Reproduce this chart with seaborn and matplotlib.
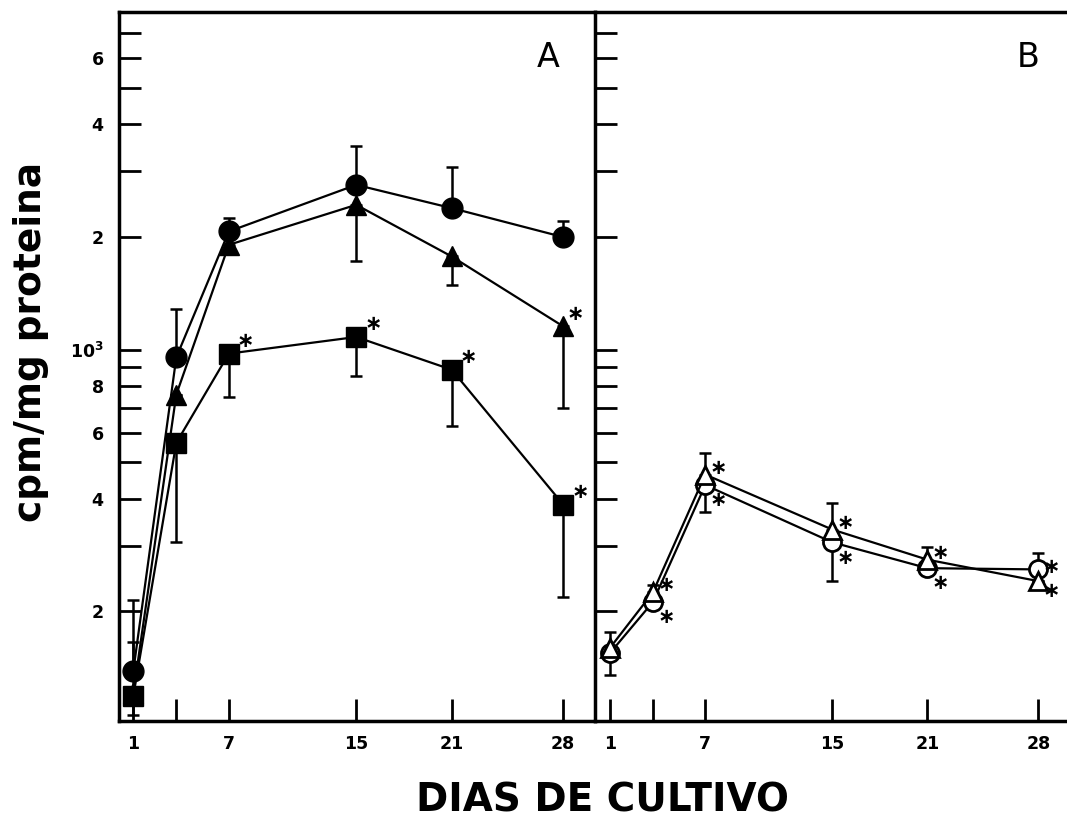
import numpy as np
import pandas as pd
import matplotlib
matplotlib.use("Agg")
import matplotlib.pyplot as plt
import seaborn as sns
from matplotlib.ticker import FixedLocator, FixedFormatter, NullLocator

sns.set_theme(style="ticks")
plt.rcParams["font.family"] = ["DejaVu Sans"]
plt.rcParams["font.weight"] = "bold"
plt.rcParams["mathtext.default"] = "bf"
plt.rcParams["text.color"] = "black"
plt.rcParams["axes.labelcolor"] = "black"
plt.rcParams["xtick.color"] = "black"
plt.rcParams["ytick.color"] = "black"

# ---- data -------------------------------------------------------------
dias = [1, 3.7, 7, 15, 21, 28]
x_ticks = [1, 3.7, 7, 15, 21, 28]
x_labels = ["1", "", "7", "15", "21", "28"]

y_ticks = [200, 300, 400, 500, 600, 700, 800, 900,
           1000, 2000, 3000, 4000, 5000, 6000, 7000]
y_labels = ["2", "", "4", "", "6", "", "8", "",
            r"$10^3$", "2", "", "4", "", "6", ""]

# Panel A (filled symbols)
a_circulo = [139, 954, 2068, 2754, 2387, 1998]
a_circulo_sup = [215, 1284, 2245, 3499, 3082, 2199]
a_triangulo = [121, 759, 1905, 2436, 1773, 1154]
a_triangulo_sup = [166, 759, 1905, 2436, 1773, 1154]
a_triangulo_inf = [121, 759, 1810, 1720, 1490, 699]
a_triangulo_sig = [0, 0, 0, 0, 0, 1]
a_cuadrado = [119, 564, 976, 1081, 884, 386]
a_cuadrado_inf = [106, 306, 748, 849, 624, 219]
a_cuadrado_sig = [0, 0, 1, 1, 1, 1]

# Panel B (open symbols)
b_circulo = [155, 212, 435, 306, 261, 259]
b_circulo_sup = [155, 212, 435, 306, 261, 286]
b_circulo_inf = [135, 212, 368, 241, 261, 259]
b_circulo_sig = [0, 1, 1, 1, 1, 1]
b_triangulo = [160, 225, 464, 331, 275, 241]
b_triangulo_sup = [176, 235, 530, 390, 297, 241]
b_triangulo_sig = [0, 1, 1, 1, 1, 1]

# ---- figure -------------------------------------------------------------
W, H = 1067, 818
fig = plt.figure(figsize=(W / 100, H / 100), dpi=100)
ax_a = fig.add_axes([119 / W, 97 / H, (595 - 119) / W, (721 - 12) / H])
ax_b = fig.add_axes([595 / W, 97 / H, (W - 595) / W, (721 - 12) / H])


def barras(ax, y, inf, sup):
    y = np.asarray(y, float)
    inf = np.asarray(inf, float)
    sup = np.asarray(sup, float)
    ax.errorbar(dias, y, yerr=[y - inf, sup - y], fmt="none", ecolor="black",
                elinewidth=1.8, capsize=4.5, capthick=1.8, zorder=2)


def asterisco(ax, x, y, dx, dy):
    ax.annotate("\u2217", (x, y), xytext=(dx, dy),
                textcoords="offset points", ha="center", va="center",
                fontsize=15, fontweight="bold", color="black", zorder=5)


def asteriscos(ax, y, sig, dx, dy):
    for xi, yi, s in zip(dias, y, sig):
        if s:
            asterisco(ax, xi, yi, dx, dy)


# Panel A
df_a = pd.DataFrame({
    "dia": dias * 3,
    "valor": a_circulo + a_triangulo + a_cuadrado,
    "serie": ["circulo"] * 6 + ["triangulo"] * 6 + ["cuadrado"] * 6,
})
barras(ax_a, a_circulo, a_circulo, a_circulo_sup)
barras(ax_a, a_triangulo, a_triangulo_inf, a_triangulo_sup)
barras(ax_a, a_cuadrado, a_cuadrado_inf, a_cuadrado)
sns.lineplot(data=df_a, x="dia", y="valor", hue="serie", style="serie",
             markers={"circulo": "o", "triangulo": "^", "cuadrado": "s"},
             dashes=False,
             palette={"circulo": "black", "triangulo": "black", "cuadrado": "black"},
             markersize=15, markeredgecolor="black", markeredgewidth=1,
             linewidth=1.6, estimator=None, errorbar=None, legend=False,
             ax=ax_a, zorder=3)
asteriscos(ax_a, a_cuadrado, a_cuadrado_sig, 12, 9)
asteriscos(ax_a, a_triangulo, a_triangulo_sig, 9, 9)

# Panel B
df_b = pd.DataFrame({
    "dia": dias * 2,
    "valor": b_circulo + b_triangulo,
    "serie": ["circulo"] * 6 + ["triangulo"] * 6,
})
barras(ax_b, b_circulo, b_circulo_inf, b_circulo_sup)
barras(ax_b, b_triangulo, b_triangulo, b_triangulo_sup)
sns.lineplot(data=df_b, x="dia", y="valor", hue="serie", style="serie",
             markers={"circulo": "o", "triangulo": "^"}, dashes=False,
             palette={"circulo": "black", "triangulo": "black"},
             markersize=13, markerfacecolor="white", markeredgecolor="black",
             markeredgewidth=2, linewidth=1.6, estimator=None, errorbar=None,
             legend=False, ax=ax_b, zorder=3)
# the upper symbol of each pair gets its asterisk above-right, the lower one below-right
for xi, yc, yt, sc, st in zip(dias, b_circulo, b_triangulo,
                              b_circulo_sig, b_triangulo_sig):
    upper_is_tri = yt >= yc
    if st:
        asterisco(ax_b, xi, yt, 9.5, 5 if upper_is_tri else -7)
    if sc:
        asterisco(ax_b, xi, yc, 9.5, -11 if upper_is_tri else 2)

# ---- axes styling -------------------------------------------------------
for ax, xlim in ((ax_a, (0.1, 30.0)), (ax_b, (0.05, 29.8))):
    ax.set_yscale("log")
    ax.set_ylim(102, 7970)
    ax.set_xlim(*xlim)
    ax.yaxis.set_major_locator(FixedLocator(y_ticks))
    ax.yaxis.set_minor_locator(NullLocator())
    ax.xaxis.set_major_locator(FixedLocator(x_ticks))
    ax.xaxis.set_major_formatter(FixedFormatter(x_labels))
    ax.xaxis.set_minor_locator(NullLocator())
    ax.tick_params(axis="both", which="major", direction="in", length=16,
                   width=2, labelsize=12.5, colors="black")
    ax.tick_params(axis="x", pad=10)
    ax.tick_params(axis="y", pad=11, right=False)
    ax.set_xlabel("")
    ax.set_ylabel("")
    ax.set_facecolor("white")
    ax.grid(False)
    for side in ("left", "bottom", "top"):
        ax.spines[side].set_visible(True)
        ax.spines[side].set_linewidth(2.5)
        ax.spines[side].set_color("black")
    ax.spines["right"].set_visible(False)

ax_a.yaxis.set_major_formatter(FixedFormatter(y_labels))
ax_b.yaxis.set_major_formatter(FixedFormatter([""] * len(y_labels)))

ax_a.text(0.901, 0.9365, "A", transform=ax_a.transAxes, ha="center",
          va="center", fontsize=24, fontweight="normal", color="black")
ax_b.text(0.917, 0.9365, "B", transform=ax_b.transAxes, ha="center",
          va="center", fontsize=24, fontweight="normal", color="black")

fig.text(31 / W, 1 - 342 / H, "cpm/mg proteina", rotation=90, ha="center",
         va="center", fontsize=27, fontweight="bold", color="black")
fig.text(603 / W, 1 - 800 / H, "DIAS DE CULTIVO", ha="center", va="center",
         fontsize=28, fontweight="bold", color="black")

fig.savefig("out.png", dpi=100, facecolor="white")
